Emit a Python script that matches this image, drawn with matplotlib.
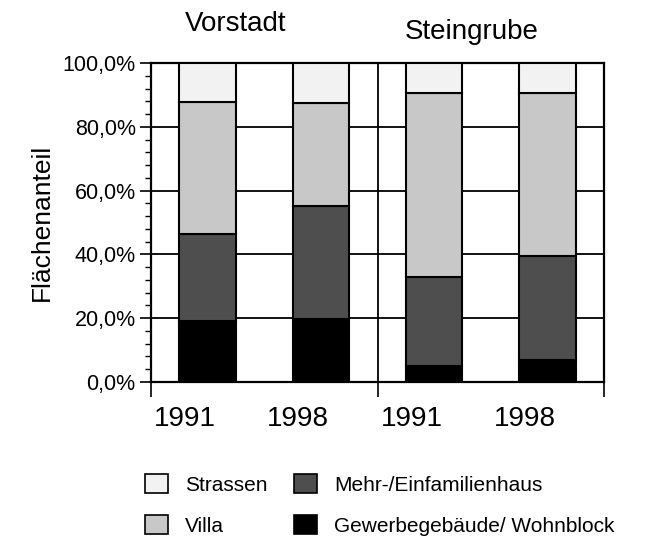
import matplotlib
matplotlib.use("Agg")
import matplotlib.pyplot as plt
from matplotlib.ticker import MultipleLocator, FuncFormatter
from matplotlib.patches import Patch

plt.rcParams['font.family'] = ['Liberation Sans', 'DejaVu Sans']

# data (percent of area)
years = ["1991", "1998", "1991", "1998"]
groups = ["Vorstadt", "Steingrube"]
gewerbe = [19.1, 19.7, 5.1, 6.9]
mehr = [27.3, 35.5, 27.9, 32.7]
villa = [41.3, 32.2, 57.5, 51.1]
strassen = [12.3, 12.6, 9.5, 9.3]

labels = ["Strassen", "Villa", "Mehr-/Einfamilienhaus", "Gewerbegebäude/ Wohnblock"]
colors = {"Strassen": "#f2f2f2", "Villa": "#c8c8c8",
          "Mehr-/Einfamilienhaus": "#4e4e4e", "Gewerbegebäude/ Wohnblock": "#000000"}

fig = plt.figure(figsize=(6.47, 5.42), dpi=100)
ax = fig.add_axes([151/647, 1-382/542, 453/647, 319/542])

x = list(range(len(years)))
w = 0.5
bottom = [0.0] * len(x)
for name, vals in [("Gewerbegebäude/ Wohnblock", gewerbe),
                   ("Mehr-/Einfamilienhaus", mehr),
                   ("Villa", villa),
                   ("Strassen", strassen)]:
    ax.bar(x, vals, w, bottom=bottom, color=colors[name], edgecolor="black",
           linewidth=1.5, zorder=3)
    bottom = [b + v for b, v in zip(bottom, vals)]

ax.set_xlim(-0.5, 3.5)
ax.set_ylim(0, 100)

# grid and group divider
for yv in [20, 40, 60, 80]:
    ax.axhline(yv, color="black", lw=1.3, zorder=1)
ax.axvline(1.5, color="black", lw=1.3, zorder=1)

for s in ax.spines.values():
    s.set_linewidth(1.6)

ax.yaxis.set_major_locator(MultipleLocator(20))
ax.yaxis.set_minor_locator(MultipleLocator(4))
ax.yaxis.set_major_formatter(FuncFormatter(lambda v, p: ("%.1f%%" % v).replace(".", ",")))
ax.tick_params(axis="y", which="major", length=8, width=1.2, labelsize=15.5, pad=3)
ax.tick_params(axis="y", which="minor", length=4, width=1.0)

# category boundary ticks on x axis, year labels as text
ax.set_xticks([-0.5, 1.5, 3.5])
ax.set_xticklabels([])
ax.tick_params(axis="x", length=11, width=1.2)
for xi, lab in zip(x, years):
    ax.text(xi - 0.2, -7.5, lab, ha="center", va="top", fontsize=20,
            transform=ax.transData)

ax.set_ylabel("Flächenanteil", fontsize=19, labelpad=6)

fig.text(236/647, 1-24/542, groups[0], ha="center", va="center", fontsize=20)
fig.text(472/647, 1-32/542, groups[1], ha="center", va="center", fontsize=20)

handles = [Patch(facecolor=colors[n], edgecolor="black", linewidth=1.2) for n in labels]
fig.legend(handles, labels, ncol=2, loc="center left",
           bbox_to_anchor=(145/647, 1-505/542), frameon=False, fontsize=15,
           handlelength=1.1, handleheight=1.0, handletextpad=0.8,
           labelspacing=1.0, columnspacing=1.3, borderpad=0, borderaxespad=0)

fig.savefig("out.png", dpi=100)
